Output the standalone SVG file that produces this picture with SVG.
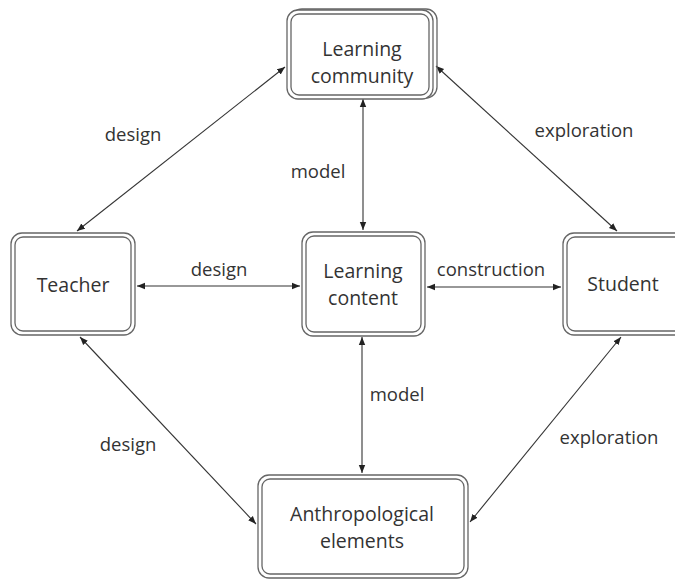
<svg xmlns="http://www.w3.org/2000/svg" width="675" height="581" viewBox="0 0 675 581">
<defs>
<marker id="ah" viewBox="0 0 10 10" refX="10" refY="5" markerWidth="8" markerHeight="8" markerUnits="userSpaceOnUse" orient="auto-start-reverse">
<path d="M0,1 L10,5 L0,9 z" fill="#222"/>
</marker>
</defs>
<style>
.o{fill:#fff;stroke:#666;stroke-width:1.3}
.i{fill:none;stroke:#666;stroke-width:1.3}
.t{font-family:"Open Sans","Noto Sans",sans-serif;font-size:19.5px;fill:#333;text-anchor:middle}
.l{font-family:"Open Sans","Noto Sans",sans-serif;font-size:18.5px;fill:#333;text-anchor:middle}
.c line{stroke:#333;stroke-width:1.1;marker-start:url(#ah);marker-end:url(#ah)}
</style>
<rect width="675" height="581" fill="#fff"/>
<g class="c" id="connectors">
<line x1="77" y1="231" x2="285" y2="67"/>
<line x1="436" y1="66" x2="617" y2="231"/>
<line x1="363" y1="99" x2="363" y2="230"/>
<line x1="137" y1="286" x2="300" y2="286"/>
<line x1="427" y1="287" x2="561" y2="287"/>
<line x1="362" y1="337" x2="362" y2="473"/>
<line x1="80" y1="337" x2="256" y2="524"/>
<line x1="621" y1="337" x2="470" y2="522"/>
</g>
<g id="labels">
<text class="l" x="133" y="141">design</text>
<text class="l" x="318" y="178">model</text>
<text class="l" x="584" y="137">exploration</text>
<text class="l" x="219" y="276">design</text>
<text class="l" x="491" y="276">construction</text>
<text class="l" x="397" y="401">model</text>
<text class="l" x="128" y="451">design</text>
<text class="l" x="609" y="444">exploration</text>
</g>
<g id="learning-community">
<rect class="i" x="291" y="9" width="146" height="89" rx="11"/>
<rect class="o" x="287" y="10" width="146" height="89" rx="11"/>
<rect class="i" x="291" y="14" width="138" height="81" rx="8"/>
<text class="t" x="362" y="56">Learning</text>
<text class="t" x="362" y="83">community</text>
</g>
<g id="teacher">
<rect class="o" x="11" y="233" width="124" height="102" rx="11"/>
<rect class="i" x="15" y="237" width="116" height="94" rx="8"/>
<text class="t" x="73" y="292">Teacher</text>
</g>
<g id="learning-content">
<rect class="o" x="302" y="232" width="123" height="104" rx="11"/>
<rect class="i" x="306" y="236" width="115" height="96" rx="8"/>
<text class="t" x="363" y="278">Learning</text>
<text class="t" x="363" y="305">content</text>
</g>
<g id="student">
<rect class="o" x="563" y="233" width="124" height="102" rx="11"/>
<rect class="i" x="567" y="237" width="116" height="94" rx="8"/>
<text class="t" x="623" y="291">Student</text>
</g>
<g id="anthropological-elements">
<rect class="o" x="258" y="475" width="210" height="103" rx="11"/>
<rect class="i" x="262" y="479" width="202" height="95" rx="8"/>
<text class="t" x="362" y="521">Anthropological</text>
<text class="t" x="362" y="548">elements</text>
</g>
</svg>
